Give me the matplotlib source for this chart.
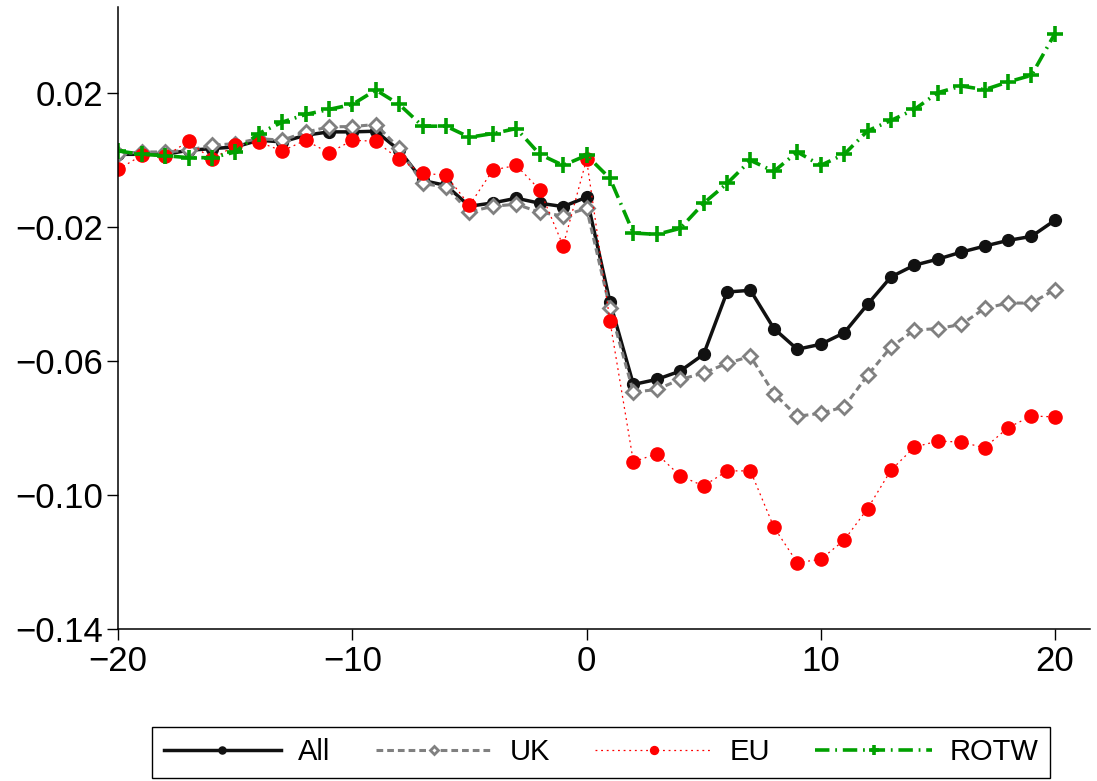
import numpy as np
import matplotlib
matplotlib.use("Agg")
import matplotlib.pyplot as plt

plt.rcParams['font.family'] = ['Liberation Sans', 'DejaVu Sans']

# event time
periods = np.arange(-20, 21)

# series values
all_vals = [0.0018, 0.0018, 0.0018, 0.0030, 0.0035, 0.0040, 0.0060, 0.0055, 0.0075, 0.0085,
            0.0085, 0.0087, 0.0030, -0.0060, -0.0075, -0.0137, -0.0127, -0.0113, -0.0128, -0.0138,
            -0.0110, -0.0423, -0.0669, -0.0654, -0.0629, -0.0579, -0.0393, -0.0388, -0.0502, -0.0564,
            -0.0549, -0.0515, -0.0430, -0.0348, -0.0313, -0.0295, -0.0274, -0.0256, -0.0239, -0.0227,
            -0.0179]
uk_vals = [0.0020, 0.0025, 0.0025, 0.0030, 0.0045, 0.0050, 0.0065, 0.0060, 0.0084, 0.0100,
           0.0101, 0.0107, 0.0036, -0.0069, -0.0080, -0.0154, -0.0137, -0.0131, -0.0155, -0.0166,
           -0.0143, -0.0442, -0.0692, -0.0684, -0.0654, -0.0635, -0.0606, -0.0585, -0.0696, -0.0764,
           -0.0755, -0.0736, -0.0642, -0.0557, -0.0507, -0.0502, -0.0490, -0.0442, -0.0426, -0.0426,
           -0.0386]
eu_vals = [-0.0027, 0.0015, 0.0012, 0.0057, 0.0003, 0.0045, 0.0055, 0.0028, 0.0060, 0.0022,
           0.0060, 0.0057, 0.0003, -0.0038, -0.0045, -0.0134, -0.0029, -0.0015, -0.0088, -0.0255,
           0.0003, -0.0480, -0.0900, -0.0876, -0.0942, -0.0972, -0.0927, -0.0927, -0.1095, -0.1201,
           -0.1191, -0.1134, -0.1040, -0.0925, -0.0856, -0.0838, -0.0841, -0.0858, -0.0798, -0.0763,
           -0.0766]
rotw_vals = [0.0028, 0.0018, 0.0014, 0.0008, 0.0008, 0.0025, 0.0080, 0.0114, 0.0137, 0.0152,
             0.0167, 0.0210, 0.0167, 0.0102, 0.0102, 0.0069, 0.0080, 0.0095, 0.0018, -0.0015,
             0.0015, -0.0054, -0.0217, -0.0221, -0.0203, -0.0128, -0.0069, 0.0000, -0.0033, 0.0025,
             -0.0015, 0.0018, 0.0088, 0.0119, 0.0152, 0.0202, 0.0222, 0.0211, 0.0234, 0.0254,
             0.0378]

xticks = [-20, -10, 0, 10, 20]
yticks = [0.02, -0.02, -0.06, -0.10, -0.14]
ytick_labels = ['0.02', '\u22120.02', '\u22120.06', '\u22120.10', '\u22120.14']
xtick_labels = ['\u221220', '\u221210', '0', '10', '20']

fig = plt.figure(figsize=(10.97, 7.81), dpi=100)
ax = fig.add_axes([0.1078, 0.1942, 0.8858, 0.7965])

green = '#00a000'
ax.plot(periods, all_vals, color='#111111', lw=2.5, marker='o', ms=8.5, label='All')
ax.plot(periods, uk_vals, color='#808080', lw=2.2, dashes=(2.2, 1.3), marker='D', ms=7,
        mfc='white', mec='#808080', mew=2, label='UK')
ax.plot(periods, eu_vals, color='#ff0000', lw=0.9, dashes=(1.5, 3), marker='o', ms=9.5,
        mec='#ff0000', mfc='#ff0000', label='EU')
ax.plot(periods, rotw_vals, color=green, lw=2.6, dashes=(4, 1.6, 0.5, 1.6), marker='+', ms=11,
        mew=2.6, label='ROTW')

ax.set_xlim(-20, 21.5)
ax.set_ylim(-0.14, 0.0457)
ax.set_xticks(xticks)
ax.set_xticklabels(xtick_labels)
ax.set_yticks(yticks)
ax.set_yticklabels(ytick_labels)
ax.tick_params(labelsize=25, length=8, width=1, direction='out', pad=3)

for s in ['top', 'right']:
    ax.spines[s].set_visible(False)
for s in ['left', 'bottom']:
    ax.spines[s].set_linewidth(1.1)

leg = fig.legend(loc='lower center', bbox_to_anchor=(0.548, 0.004), ncol=4, fontsize=21,
                 frameon=True, fancybox=False, edgecolor='black', handlelength=4.0,
                 handletextpad=0.6, columnspacing=1.55, borderpad=0.4, borderaxespad=0,
                 framealpha=1, markerscale=0.6)
leg.get_frame().set_linewidth(1.0)

fig.savefig('out.png', dpi=100)
